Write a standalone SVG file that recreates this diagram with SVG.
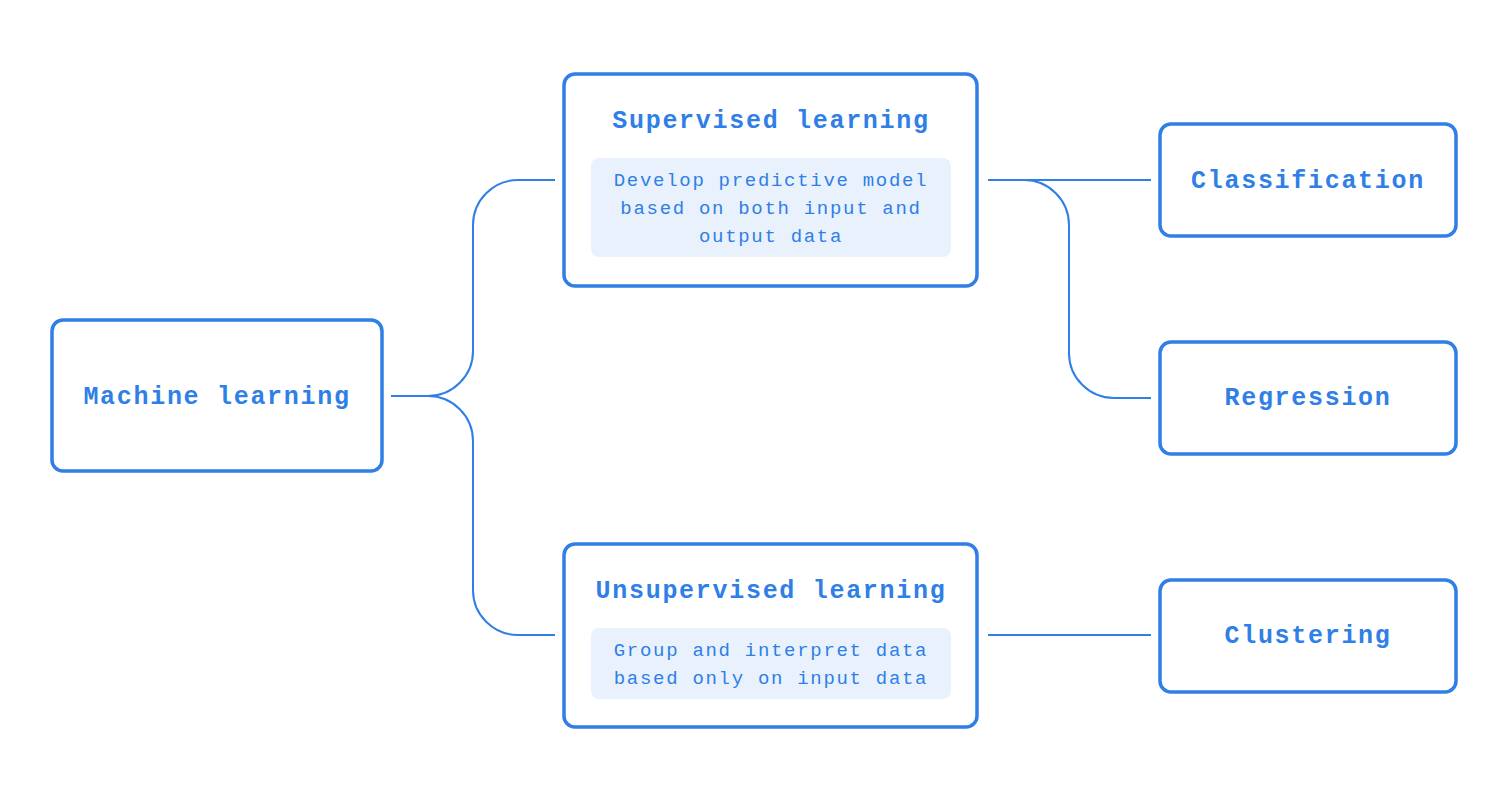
<svg xmlns="http://www.w3.org/2000/svg" width="1508" height="802" viewBox="0 0 1508 802">
<style>
.box{fill:#fff;stroke:#2f7fe6;stroke-width:3.5}
.inner{fill:#e9f1fc}
.t{font-family:"Liberation Mono","DejaVu Sans Mono",monospace;font-weight:bold;font-size:25px;letter-spacing:1.7px;fill:#2f7fe6;text-anchor:middle;dominant-baseline:central}
.s{font-family:"Liberation Mono","DejaVu Sans Mono",monospace;font-size:19px;letter-spacing:1.7px;fill:#2f7fe6;text-anchor:middle;dominant-baseline:central}
.c{fill:none;stroke:#2f7fe6;stroke-width:2}
</style>
<rect width="1508" height="802" fill="#fff"/>
<g id="connectors">
<path class="c" d="M391,396 H428 A45,45 0 0 0 473,351 V225 A45,45 0 0 1 518,180 H555"/>
<path class="c" d="M428,396 A45,45 0 0 1 473,441 V590 A45,45 0 0 0 518,635 H555"/>
<path class="c" d="M988,180 H1151"/>
<path class="c" d="M1024,180 A45,45 0 0 1 1069,225 V353 A45,45 0 0 0 1114,398 H1151"/>
<path class="c" d="M988,635 H1151"/>
</g>
<g id="ml"><rect class="box" x="52" y="320" width="330" height="151" rx="11"/><text class="t" x="217" y="397">Machine learning</text></g>
<g id="supervised"><rect class="box" x="564" y="74" width="413" height="212" rx="11"/><text class="t" x="771" y="121">Supervised learning</text>
<rect class="inner" x="591" y="158" width="360" height="99" rx="8"/>
<text class="s" x="771" y="181">Develop predictive model</text><text class="s" x="771" y="209">based on both input and</text><text class="s" x="771" y="237">output data</text></g>
<g id="unsupervised"><rect class="box" x="564" y="544" width="413" height="183" rx="11"/><text class="t" x="771" y="591">Unsupervised learning</text>
<rect class="inner" x="591" y="628" width="360" height="71" rx="8"/>
<text class="s" x="771" y="651">Group and interpret data</text><text class="s" x="771" y="679">based only on input data</text></g>
<g id="classification"><rect class="box" x="1160" y="124" width="296" height="112" rx="11"/><text class="t" x="1308" y="181">Classification</text></g>
<g id="regression"><rect class="box" x="1160" y="342" width="296" height="112" rx="11"/><text class="t" x="1308" y="398">Regression</text></g>
<g id="clustering"><rect class="box" x="1160" y="580" width="296" height="112" rx="11"/><text class="t" x="1308" y="636">Clustering</text></g>
</svg>
